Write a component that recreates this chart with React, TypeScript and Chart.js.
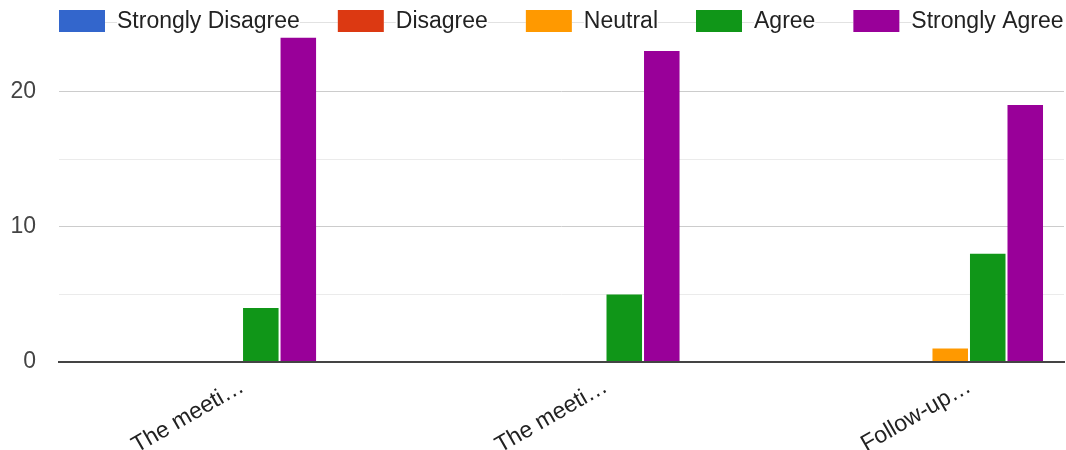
import React, { useEffect, useRef } from 'react';
import { Chart, registerables } from 'chart.js';

Chart.register(...registerables);

// Survey responses per statement
const categories = ['The meeti…', 'The meeti…', 'Follow-up…'];
const seriesNames = ['Strongly Disagree', 'Disagree', 'Neutral', 'Agree', 'Strongly Agree'];
const seriesColors = ['#3366cc', '#dc3912', '#ff9900', '#109618', '#990099'];
const stronglyDisagree = [0, 0, 0];
const disagree = [0, 0, 0];
const neutral = [0, 0, 1];
const agree = [4, 5, 8];
const stronglyAgree = [24, 23, 19];

// Value axis ticks: every 5 gets a gridline, every 10 gets a label
const yTicks = [0, 5, 10, 15, 20];
const yLabelTicks = [0, 10, 20];
const Y_MAX = 24;

// Visible window of the category axis (in category index units)
const X_MIN = -0.452;
const X_MAX = 2.313;

const FONT = '"Liberation Sans", Arial, Helvetica, sans-serif';

// Legend drawn in a single row across the top of the canvas
const topLegend = {
  id: 'topLegend',
  afterDraw(chart: any) {
    const ctx = chart.ctx as CanvasRenderingContext2D;
    const boxW = 46;
    const boxH = 22;
    const top = 10;
    const gapText = 12;
    const gapItem = 38;
    const midY = top + boxH / 2;
    ctx.save();
    ctx.font = `23px ${FONT}`;
    ctx.textBaseline = 'middle';
    ctx.textAlign = 'left';
    const items = chart.data.datasets.map((ds: any) => ({
      label: ds.label as string,
      color: ds.backgroundColor as string,
      width: ctx.measureText(ds.label).width,
    }));
    // faint connector running behind the row
    let x = 59;
    ctx.strokeStyle = '#e2e2e2';
    ctx.lineWidth = 1;
    items.forEach((it: any, i: number) => {
      const textX = x + boxW + gapText;
      const end = textX + it.width;
      ctx.beginPath();
      ctx.moveTo(x + boxW, 22.5);
      ctx.lineTo(textX, 22.5);
      if (i < items.length - 1) {
        ctx.moveTo(end, 22.5);
        ctx.lineTo(end + gapItem, 22.5);
      }
      ctx.stroke();
      x = end + gapItem;
    });
    x = 59;
    items.forEach((it: any) => {
      ctx.fillStyle = it.color;
      ctx.fillRect(x, top, boxW, boxH);
      const textX = x + boxW + gapText;
      ctx.fillStyle = '#222222';
      ctx.fillText(it.label, textX, midY + 1);
      x = textX + it.width + gapItem;
    });
    ctx.restore();
  },
};

export default function App() {
  const canvasRef = useRef<HTMLCanvasElement | null>(null);

  useEffect(() => {
    if (!canvasRef.current) return;
    Chart.defaults.font.family = FONT;
    const series = [stronglyDisagree, disagree, neutral, agree, stronglyAgree];
    const datasets = series.map((values, s) => ({
      label: seriesNames[s],
      backgroundColor: seriesColors[s],
      borderWidth: 0,
      data: values.map((v, i) => ({ x: i, y: v })),
      categoryPercentage: 0.516,
      barPercentage: 0.947,
    }));

    const chart = new Chart(canvasRef.current, {
      type: 'bar',
      data: { datasets },
      options: {
        animation: false,
        responsive: true,
        maintainAspectRatio: false,
        layout: { padding: { top: 37.5, right: 2, left: 0, bottom: 0 } },
        plugins: {
          legend: { display: false },
          tooltip: { enabled: false },
        },
        scales: {
          x: {
            type: 'linear',
            min: X_MIN,
            max: X_MAX,
            bounds: 'data',
            offset: false,
            grid: { display: false, drawTicks: false },
            border: { display: true, color: '#444444', width: 2, z: 1 },
            afterBuildTicks: (scale: any) => {
              scale.ticks = categories.map((_, i) => ({ value: i }));
            },
            afterFit: (scale: any) => {
              scale.height = 88;
            },
            ticks: {
              autoSkip: false,
              minRotation: 30,
              maxRotation: 30,
              padding: 11,
              labelOffset: 19,
              color: '#222222',
              font: { size: 23, family: FONT },
              callback: (v: any) => categories[v as number] ?? '',
            },
          },
          y: {
            min: 0,
            max: Y_MAX,
            afterBuildTicks: (scale: any) => {
              scale.ticks = yTicks.map((value) => ({ value }));
            },
            afterFit: (scale: any) => {
              scale.width = 59;
            },
            border: { display: false },
            grid: {
              drawTicks: false,
              lineWidth: 1,
              color: (c: any) =>
                c.tick.value === 0
                  ? 'rgba(0,0,0,0)'
                  : c.tick.value % 10 === 0
                  ? '#cccccc'
                  : '#ebebeb',
            },
            ticks: {
              padding: 23,
              color: '#444444',
              font: { size: 23, family: FONT },
              callback: (v: any) => (yLabelTicks.includes(v as number) ? String(v) : ''),
            },
          },
        },
      } as any,
      plugins: [topLegend],
    });

    return () => chart.destroy();
  }, []);

  return (
    <div style={{ position: 'absolute', left: 0, top: 0, width: 1066, height: 450, background: '#ffffff' }}>
      <canvas ref={canvasRef} />
    </div>
  );
}
